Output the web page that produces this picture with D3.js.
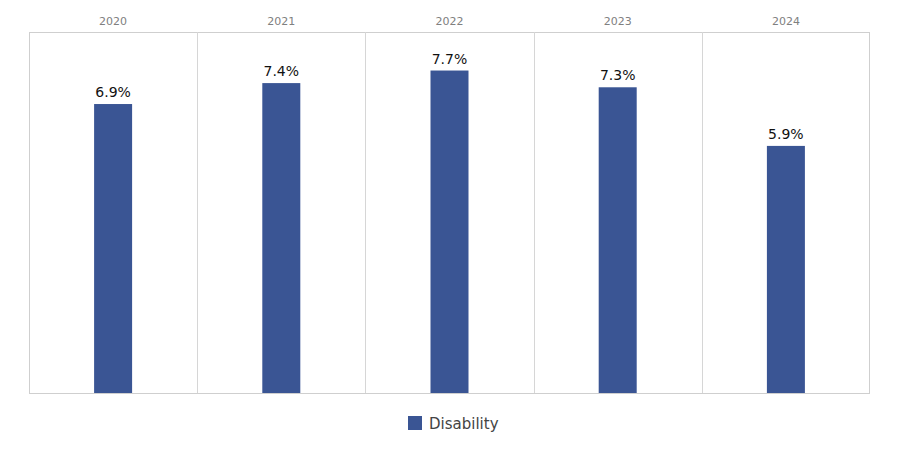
<!DOCTYPE html>
<html><head><meta charset="utf-8">
<script src="https://cdn.jsdelivr.net/npm/d3@7"></script>
<style>body{margin:0;background:#fff;} svg{display:block;font-family:"DejaVu Sans","Noto Sans",sans-serif;}</style>
</head><body>
<script>
const years = ["2020","2021","2022","2023","2024"];
const values = [6.9, 7.4, 7.7, 7.3, 5.9];
const seriesName = "Disability";
const color = "#3a5594";

(function () {
const W = 902, H = 452;
const mLeft = 29, mRight = 870, mTop = 32, mBottom = 393;
const svg = d3.select("body").append("svg").attr("width", W).attr("height", H);

const x = d3.scaleBand().domain(years).range([mLeft, mRight]).paddingInner(0).paddingOuter(0);
const y = d3.scaleLinear().domain([0, 8.62]).range([mBottom, mTop]);

svg.append("rect").attr("x", mLeft + 0.5).attr("y", mTop + 0.5).attr("width", mRight - mLeft - 1).attr("height", mBottom - mTop)
  .attr("fill", "none").attr("stroke", "#cfcfcf").attr("stroke-width", 1);
years.slice(1).forEach(yr => {
  const xx = Math.round(x(yr)) + 0.5;
  svg.append("line").attr("x1", xx).attr("x2", xx).attr("y1", mTop).attr("y2", mBottom).attr("stroke", "#d6d6d6");
});

svg.selectAll("text.yr").data(years).enter().append("text").attr("class", "yr")
  .attr("x", d => x(d) + x.bandwidth() / 2).attr("y", 25).attr("text-anchor", "middle")
  .attr("font-size", 11).attr("fill", "#808080").text(d => d);

const bw = 38;
svg.selectAll("rect.bar").data(values).enter().append("rect").attr("class", "bar")
  .attr("x", (d, i) => x(years[i]) + x.bandwidth() / 2 - bw / 2)
  .attr("y", d => y(d)).attr("width", bw).attr("height", d => mBottom - y(d)).attr("fill", color);

svg.selectAll("text.lbl").data(values).enter().append("text").attr("class", "lbl")
  .attr("x", (d, i) => x(years[i]) + x.bandwidth() / 2).attr("y", d => y(d) - 7)
  .attr("text-anchor", "middle").attr("font-size", 14).attr("fill", "#111").text(d => d.toFixed(1) + "%");

svg.append("rect").attr("x", 408).attr("y", 416).attr("width", 14).attr("height", 14).attr("fill", color);
svg.append("text").attr("x", 429).attr("y", 429).attr("font-size", 15).attr("fill", "#444").text(seriesName);
})();
</script>
</body></html>
